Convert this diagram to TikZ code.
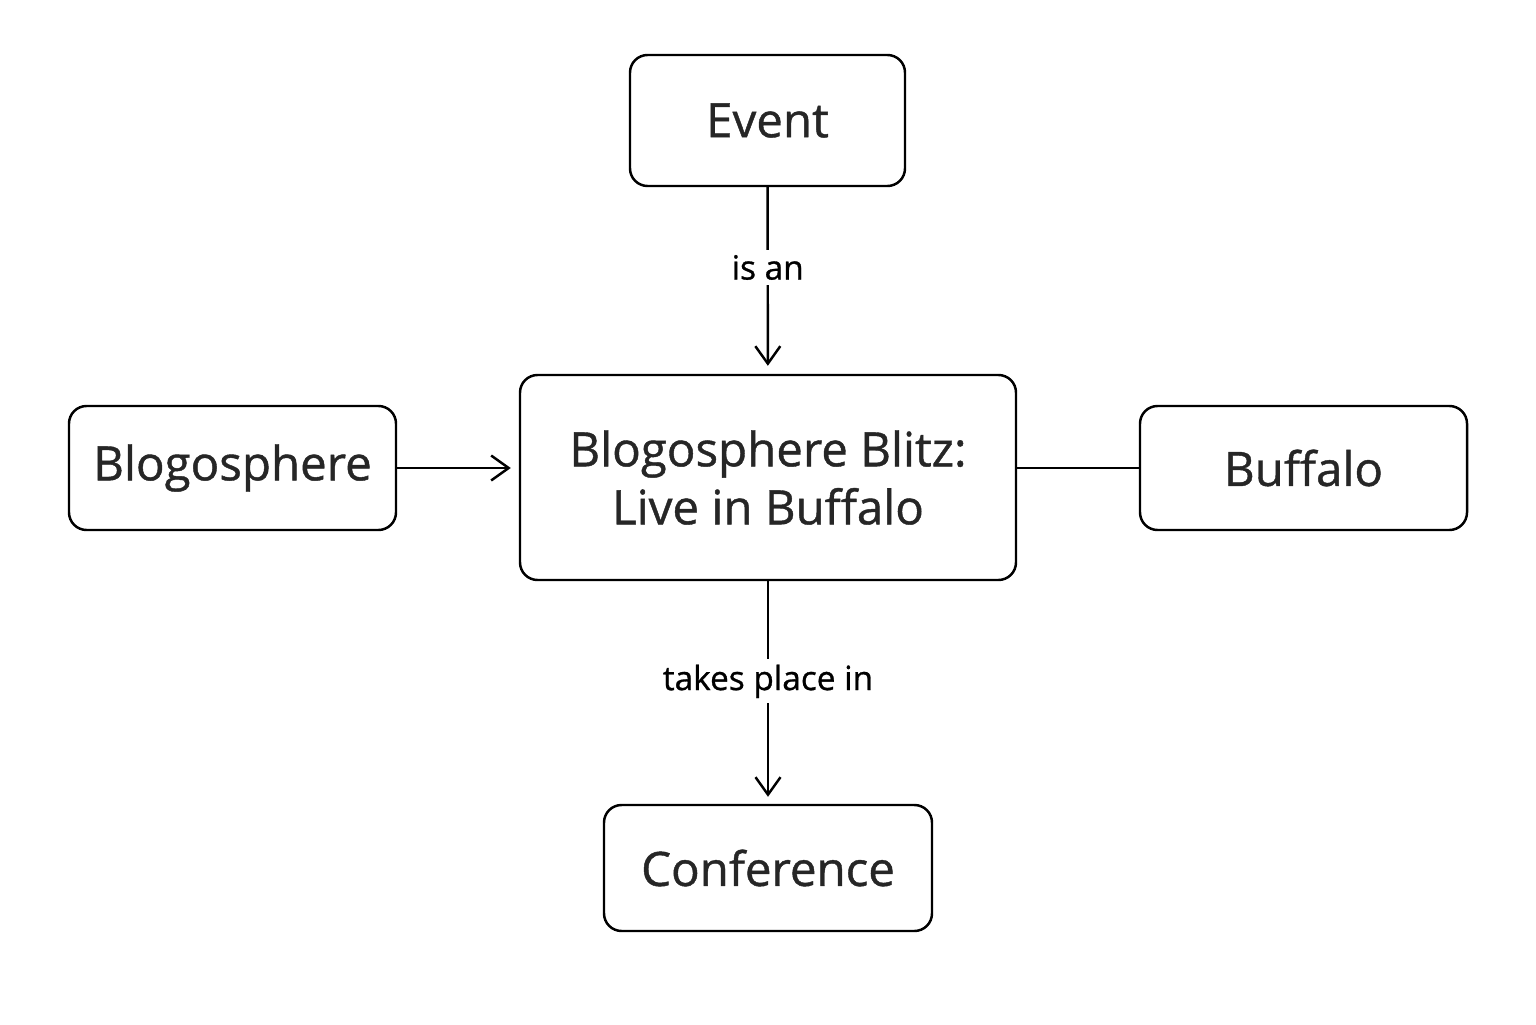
\documentclass[tikz,border=0pt]{standalone}
\usepackage{fontspec}
\setmainfont{Open Sans}[FakeBold=0.9]
\usetikzlibrary{arrows.meta, calc}
\tikzset{concept/.style={rectangle, draw, line width=1.4pt, rounded corners=10pt,
  align=center, font=\fontsize{27}{33}\selectfont, text=black!85}}
\tikzset{relation/.style={fill=white, font=\fontsize{19}{22}\selectfont, inner sep=3pt}}
\tikzset{link/.style={line width=1.4pt, -{Straight Barb[length=3.5mm, width=5mm]}}}

\begin{document}
\begin{tikzpicture}
\useasboundingbox (0,0) rectangle (30.72,20.48);

\node [concept, minimum width = 5.5cm, minimum height = 2.62cm] (event) at (15.35, 18.07) {Event};
\node [concept, minimum width = 9.92cm, minimum height = 4.1cm] (blitz) at (15.36, 10.93) {Blogosphere Blitz:\\Live in Buffalo};
\node [concept, minimum width = 6.54cm, minimum height = 2.48cm] (blogo) at (4.65, 11.12) {Blogosphere};
\node [concept, minimum width = 6.54cm, minimum height = 2.48cm] (buffalo) at (26.07, 11.12) {Buffalo};
\node [concept, minimum width = 6.56cm, minimum height = 2.52cm] (conf) at (15.36, 3.12) {Conference};

\draw [link, shorten >=0.16cm] (event) -- node [relation, pos=0.43] {is an} (blitz);
\draw [link, shorten >=0.16cm] (blogo) -- (blogo -| blitz.west);
\draw [line width=1.4pt] (blogo -| blitz.east) -- (buffalo);
\draw [link, shorten >=0.14cm] (blitz) -- node [relation, pos=0.45] {takes place in} (conf);

\end{tikzpicture}
\end{document}
